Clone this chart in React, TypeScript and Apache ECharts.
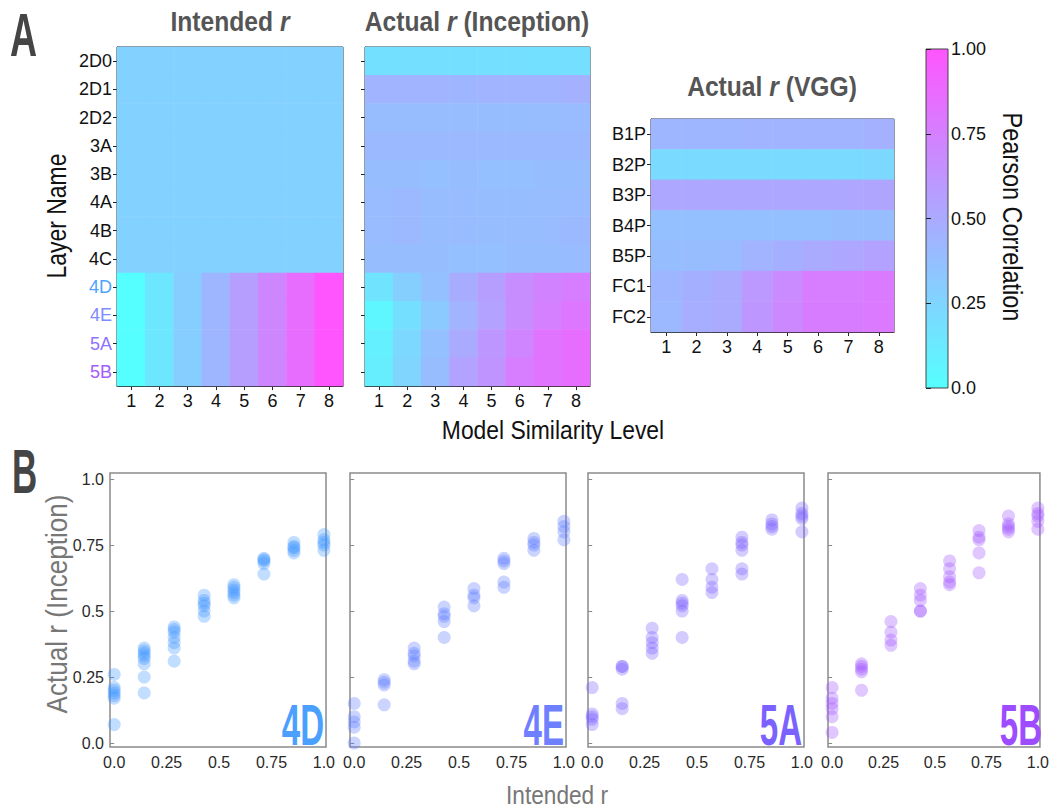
import React, { useEffect, useRef } from "react";
import * as echarts from "echarts";

const FONT = "'Liberation Sans', Arial, sans-serif";

const similarityLevels = ["1", "2", "3", "4", "5", "6", "7", "8"];
const inceptionLayers = ["2D0", "2D1", "2D2", "3A", "3B", "4A", "4B", "4C", "4D", "4E", "5A", "5B"];
const vggLayers = ["B1P", "B2P", "B3P", "B4P", "B5P", "FC1", "FC2"];
const layerLabelColors = ["#111", "#111", "#111", "#111", "#111", "#111", "#111", "#111", "#4ea3ff", "#7d8cff", "#8d73ff", "#a35cff"];

const intendedR = [
  [0.27, 0.27, 0.27, 0.27, 0.27, 0.27, 0.27, 0.27],
  [0.27, 0.27, 0.27, 0.27, 0.27, 0.27, 0.27, 0.27],
  [0.27, 0.27, 0.27, 0.27, 0.27, 0.27, 0.27, 0.27],
  [0.27, 0.27, 0.27, 0.27, 0.27, 0.27, 0.27, 0.27],
  [0.27, 0.27, 0.27, 0.27, 0.27, 0.27, 0.27, 0.27],
  [0.27, 0.27, 0.27, 0.27, 0.27, 0.27, 0.27, 0.27],
  [0.27, 0.27, 0.27, 0.27, 0.27, 0.27, 0.27, 0.27],
  [0.27, 0.27, 0.27, 0.27, 0.27, 0.27, 0.27, 0.27],
  [0.0, 0.143, 0.286, 0.429, 0.571, 0.714, 0.857, 1.0],
  [0.0, 0.143, 0.286, 0.429, 0.571, 0.714, 0.857, 1.0],
  [0.0, 0.143, 0.286, 0.429, 0.571, 0.714, 0.857, 1.0],
  [0.0, 0.143, 0.286, 0.429, 0.571, 0.714, 0.857, 1.0],
];

const actualInception = [
  [0.18, 0.19, 0.19, 0.19, 0.19, 0.19, 0.18, 0.19],
  [0.44, 0.44, 0.44, 0.43, 0.44, 0.44, 0.44, 0.46],
  [0.39, 0.39, 0.39, 0.39, 0.38, 0.38, 0.39, 0.40],
  [0.41, 0.41, 0.41, 0.42, 0.41, 0.41, 0.41, 0.41],
  [0.38, 0.38, 0.37, 0.38, 0.37, 0.37, 0.38, 0.38],
  [0.40, 0.42, 0.39, 0.40, 0.38, 0.38, 0.39, 0.40],
  [0.40, 0.42, 0.39, 0.40, 0.38, 0.39, 0.40, 0.41],
  [0.38, 0.38, 0.38, 0.37, 0.37, 0.38, 0.38, 0.40],
  [0.16, 0.28, 0.37, 0.49, 0.57, 0.67, 0.73, 0.76],
  [0.05, 0.19, 0.31, 0.45, 0.55, 0.67, 0.75, 0.80],
  [0.09, 0.23, 0.37, 0.50, 0.61, 0.72, 0.82, 0.86],
  [0.10, 0.25, 0.39, 0.54, 0.63, 0.76, 0.82, 0.86],
];

const actualVGG = [
  [0.43, 0.43, 0.43, 0.44, 0.44, 0.44, 0.44, 0.46],
  [0.22, 0.22, 0.22, 0.22, 0.22, 0.22, 0.22, 0.23],
  [0.52, 0.52, 0.52, 0.52, 0.52, 0.52, 0.52, 0.53],
  [0.37, 0.37, 0.37, 0.37, 0.37, 0.37, 0.38, 0.38],
  [0.38, 0.39, 0.40, 0.45, 0.47, 0.50, 0.52, 0.55],
  [0.43, 0.47, 0.50, 0.60, 0.68, 0.76, 0.76, 0.78],
  [0.42, 0.48, 0.50, 0.62, 0.70, 0.77, 0.77, 0.79],
];

const colorStops = ["#55ffff", "#ff55ff"];
const colorbarTicks = [0, 0.25, 0.5, 0.75, 1];

const intendedLevels = [0.0, 0.143, 0.286, 0.429, 0.571, 0.714, 0.857, 1.0];
const scatterTicks = [0, 0.25, 0.5, 0.75, 1];

const scatterLayers = ["4D", "4E", "5A", "5B"];
const scatterColors = ["#3f95ff", "#5b78ff", "#7a5cff", "#a050ff"];
const scatterLabelColors = ["#4a9fff", "#6f80ff", "#7b62ff", "#9d4dff"];

const r4D = [
  [0.26, 0.21, 0.2, 0.19, 0.18, 0.17, 0.07],
  [0.36, 0.35, 0.34, 0.33, 0.32, 0.3, 0.25, 0.19],
  [0.44, 0.43, 0.42, 0.4, 0.38, 0.36, 0.31],
  [0.56, 0.54, 0.53, 0.52, 0.5, 0.48],
  [0.6, 0.59, 0.58, 0.57, 0.56, 0.55],
  [0.7, 0.695, 0.69, 0.68, 0.64],
  [0.76, 0.745, 0.74, 0.73, 0.72],
  [0.79, 0.77, 0.76, 0.75, 0.73],
];
const r4E = [
  [0.15, 0.1, 0.08, 0.06, 0.0],
  [0.24, 0.23, 0.22, 0.145],
  [0.36, 0.34, 0.33, 0.31, 0.3],
  [0.515, 0.49, 0.48, 0.46, 0.4],
  [0.585, 0.56, 0.55, 0.52],
  [0.7, 0.69, 0.68, 0.61, 0.59],
  [0.775, 0.76, 0.75, 0.73],
  [0.84, 0.82, 0.8, 0.77],
];
const r5A = [
  [0.21, 0.11, 0.1, 0.09, 0.07],
  [0.29, 0.29, 0.28, 0.15, 0.13],
  [0.435, 0.4, 0.38, 0.36, 0.34],
  [0.62, 0.54, 0.53, 0.52, 0.5, 0.4],
  [0.66, 0.62, 0.59, 0.57],
  [0.78, 0.76, 0.75, 0.73, 0.66, 0.64],
  [0.845, 0.83, 0.82, 0.81],
  [0.89, 0.87, 0.86, 0.85, 0.8],
];
const r5B = [
  [0.21, 0.17, 0.15, 0.13, 0.1, 0.04],
  [0.3, 0.29, 0.28, 0.27, 0.2],
  [0.46, 0.42, 0.39, 0.37],
  [0.585, 0.56, 0.54, 0.5, 0.5],
  [0.69, 0.66, 0.63, 0.61, 0.6],
  [0.805, 0.78, 0.77, 0.72, 0.645],
  [0.86, 0.83, 0.82, 0.81, 0.8],
  [0.89, 0.87, 0.86, 0.84, 0.81],
];
const scatterValues = [r4D, r4E, r5A, r5B];

function toCells(matrix: number[][]) {
  const out: number[][] = [];
  matrix.forEach((row, yi) => row.forEach((v, xi) => out.push([xi, yi, v])));
  return out;
}

export default function App() {
  const ref = useRef<HTMLDivElement>(null);
  useEffect(() => {
    if (!ref.current) return;
    const chart = echarts.init(ref.current, null, { renderer: "svg" });

    const heatGrids = [
      { left: 117, top: 47, width: 226, height: 339 },
      { left: 365, top: 47, width: 225, height: 339 },
      { left: 651, top: 119, width: 243, height: 213 },
    ];
    const scatterLefts = [110, 350, 588, 828];
    const grids: any[] = [
      ...heatGrids.map((g) => ({ ...g, show: true, borderColor: "#222", borderWidth: 1, backgroundColor: "transparent" })),
      { left: 926, top: 49, width: 22, height: 339, show: false },
      ...scatterLefts.map((l) => ({ left: l, top: 473, width: 216, height: 274, show: true, borderColor: "#8a8a8a", borderWidth: 1.5, backgroundColor: "transparent" })),
    ];

    const heatX = (gi: number) => ({
      type: "category",
      gridIndex: gi,
      data: similarityLevels,
      axisLine: { show: true, lineStyle: { color: "#222" } },
      axisTick: { show: true, alignWithLabel: true, length: 4, lineStyle: { color: "#222" } },
      axisLabel: { fontFamily: FONT, fontSize: 18, color: "#111", margin: 6 },
      splitLine: { show: false },
    });
    const heatY = (gi: number, layers: string[], showLabel: boolean, colors?: string[]) => ({
      type: "category",
      gridIndex: gi,
      data: layers,
      inverse: true,
      axisLine: { show: true, lineStyle: { color: "#222" } },
      axisTick: { show: true, alignWithLabel: true, length: 4, lineStyle: { color: "#222" } },
      axisLabel: {
        show: showLabel,
        fontFamily: FONT,
        fontSize: 18,
        margin: 5,
        color: colors ? (_v: any, i: number) => colors[i] : "#111",
      },
      splitLine: { show: false },
    });

    const xAxes: any[] = [heatX(0), heatX(1), heatX(2), { type: "value", gridIndex: 3, show: false, min: 0, max: 1 }];
    const yAxes: any[] = [
      heatY(0, inceptionLayers, true, layerLabelColors),
      heatY(1, inceptionLayers, false),
      heatY(2, vggLayers, true),
      {
        type: "value",
        gridIndex: 3,
        min: 0,
        max: 1,
        interval: 0.25,
        position: "right",
        axisLine: { show: false },
        axisTick: { show: true, length: 5, lineStyle: { color: "#222" } },
        splitLine: { show: false },
        axisLabel: {
          fontFamily: FONT,
          fontSize: 18,
          color: "#111",
          margin: 3,
          formatter: (v: number) => (v === 0 ? "0.0" : v.toFixed(2)),
          customValues: colorbarTicks,
        },
      },
    ];

    scatterLefts.forEach((_, i) => {
      const gi = 4 + i;
      xAxes.push({
        type: "value",
        gridIndex: gi,
        min: -0.02,
        max: 1.01,
        axisLine: { show: false },
        splitLine: { show: false },
        axisTick: { show: false },
        axisLabel: {
          fontFamily: FONT,
          fontSize: 16,
          color: "#2a2a2a",
          margin: 7,
          customValues: scatterTicks,
          formatter: (v: number) => (v === 0 ? "0.0" : v === 1 ? "1.0" : String(v)),
        },
      });
      yAxes.push({
        type: "value",
        gridIndex: gi,
        min: -0.015,
        max: 1.023,
        axisLine: { show: false },
        splitLine: { show: false },
        axisTick: { show: true, length: 4, lineStyle: { color: "#888" }, customValues: scatterTicks },
        axisLabel: {
          show: i === 0,
          fontFamily: FONT,
          fontSize: 16,
          color: "#2a2a2a",
          margin: 6,
          customValues: scatterTicks,
          formatter: (v: number) => (v === 0 ? "0.0" : v === 1 ? "1.0" : String(v)),
        },
      });
    });

    const heatSeries = [intendedR, actualInception, actualVGG].map((m, i) => ({
      type: "heatmap",
      xAxisIndex: i,
      yAxisIndex: i,
      data: toCells(m),
      itemStyle: { borderWidth: 0 },
      emphasis: { disabled: true },
    }));

    const scatterSeries = scatterValues.map((layer, i) => {
      const pts: number[][] = [];
      layer.forEach((ys, xi) => ys.forEach((y) => pts.push([intendedLevels[xi], y])));
      return {
        type: "scatter",
        name: scatterLayers[i],
        xAxisIndex: 4 + i,
        yAxisIndex: 4 + i,
        data: pts,
        symbolSize: 13,
        itemStyle: { color: scatterColors[i], opacity: 0.32 },
      };
    });

    const titleText = (x: number, y: number, pre: string, post: string) => ({
      type: "text",
      x,
      y,
      scaleX: 0.88,
      style: {
        text: `{b|${pre}}{i|r}{b|${post}}`,
        align: "center",
        verticalAlign: "middle",
        rich: {
          b: { fontFamily: FONT, fontSize: 28, fontWeight: "bold", fill: "#555" },
          i: { fontFamily: FONT, fontSize: 28, fontWeight: "bold", fontStyle: "italic", fill: "#555" },
        },
      },
    });

    const plainText = (text: string, x: number, y: number, size: number, color: string, rotation = 0, sx = 0.87) => ({
      type: "text",
      x,
      y,
      rotation,
      scaleX: sx,
      style: { text, fontFamily: FONT, fontSize: size, fill: color, align: "center", verticalAlign: "middle" },
    });

    const graphic: any[] = [
      {
        type: "text",
        x: 10,
        y: 35,
        scaleX: 0.72,
        scaleY: 1.19,
        style: { text: "A", fontFamily: FONT, fontSize: 52, fontWeight: "bold", fill: "#454545", verticalAlign: "middle" },
      },
      {
        type: "text",
        x: 12,
        y: 471,
        scaleX: 0.67,
        scaleY: 1.21,
        style: { text: "B", fontFamily: FONT, fontSize: 52, fontWeight: "bold", fill: "#454545", verticalAlign: "middle" },
      },
      titleText(230, 21, "Intended ", ""),
      titleText(477, 21, "Actual ", " (Inception)"),
      titleText(772, 86, "Actual ", " (VGG)"),
      plainText("Layer Name", 56, 216, 27, "#111", Math.PI / 2, 0.85),
      plainText("Model Similarity Level", 553, 430, 26, "#111", 0, 0.88),
      {
        type: "rect",
        shape: { x: 926, y: 49, width: 22, height: 339 },
        style: {
          fill: new echarts.graphic.LinearGradient(0, 0, 0, 1, [
            { offset: 0, color: colorStops[1] },
            { offset: 1, color: colorStops[0] },
          ]),
          stroke: "#444",
          lineWidth: 1,
        },
        z: -1,
      },
      plainText("Pearson Correlation", 1013, 217, 27, "#111", -Math.PI / 2, 0.87),
      plainText("Actual r (Inception)", 57, 604, 29, "#777", Math.PI / 2, 0.9),
      plainText("Intended r", 557, 795, 26, "#777", 0, 0.87),
      ...scatterLayers.map((name, i) => ({
        type: "text",
        x: scatterLefts[i] + 214,
        y: 725,
        scaleX: 0.57,
        style: {
          text: name,
          fontFamily: FONT,
          fontSize: 58,
          fontWeight: "bold",
          fill: scatterLabelColors[i],
          align: "right",
          verticalAlign: "middle",
        },
      })),
    ];

    chart.setOption({
      animation: false,
      backgroundColor: "#fff",
      grid: grids,
      xAxis: xAxes,
      yAxis: yAxes,
      visualMap: {
        type: "continuous",
        show: false,
        min: 0,
        max: 1,
        seriesIndex: [0, 1, 2],
        inRange: { color: colorStops },
      },
      series: [...heatSeries, ...scatterSeries],
      graphic,
    });

    return () => chart.dispose();
  }, []);

  return <div ref={ref} style={{ position: "fixed", left: 0, top: 0, width: 1052, height: 809 }} />;
}
